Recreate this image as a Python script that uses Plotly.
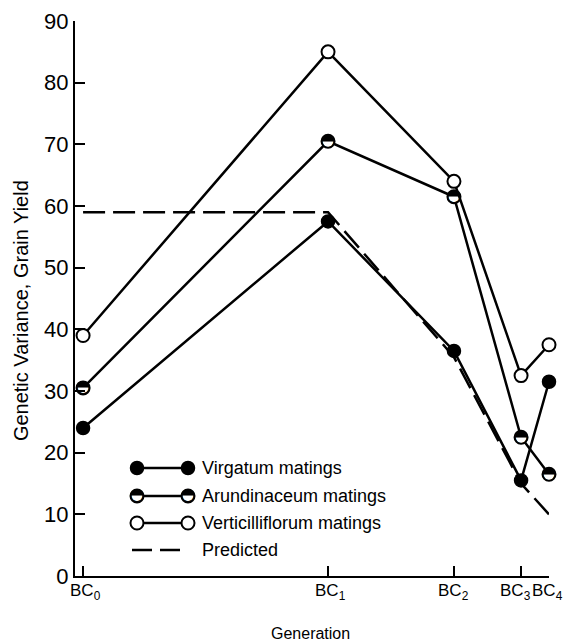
import plotly.graph_objects as go

# ---- data ----
generations = ["BC<sub>0</sub>", "BC<sub>1</sub>", "BC<sub>2</sub>", "BC<sub>3</sub>", "BC<sub>4</sub>"]
gen_pos = [0.0, 1.0, 1.514, 1.788, 1.902]
virgatum = [24.0, 57.5, 36.5, 15.5, 31.5]
arundinaceum = [30.5, 70.5, 61.5, 22.5, 16.5]
verticilliflorum = [39.0, 85.0, 64.0, 32.5, 37.5]
predicted = [59.0, 59.0, 35.5, 15.0, 10.0]
y_ticks = [0, 10, 20, 30, 40, 50, 60, 70, 80, 90]
label_nudge = [2, 2, 0, -6, -2]   # px nudges so the crowded BC3/BC4 labels sit apart

FONT = "Liberation Sans Narrow, Arial Narrow, Liberation Sans, sans-serif"
LW = 2.5

fig = go.Figure()

# predicted (dashed)
fig.add_trace(go.Scatter(x=gen_pos, y=predicted, mode="lines",
                         line=dict(color="black", width=LW, dash="22px,8px"),
                         showlegend=False, cliponaxis=False))
# virgatum (filled)
fig.add_trace(go.Scatter(x=gen_pos, y=virgatum, mode="lines+markers",
                         line=dict(color="black", width=LW),
                         marker=dict(symbol="circle", size=13, color="black",
                                     line=dict(color="black", width=1.5)),
                         showlegend=False, cliponaxis=False))
# arundinaceum (half filled)
fig.add_trace(go.Scatter(x=gen_pos, y=arundinaceum, mode="lines+markers+text",
                         line=dict(color="black", width=LW),
                         marker=dict(symbol="circle", size=13, color="white",
                                     line=dict(color="black", width=2)),
                         text=["\u25d3"] * len(gen_pos), textposition="middle center",
                         textfont=dict(family="DejaVu Sans", size=17, color="black"),
                         showlegend=False, cliponaxis=False))
# verticilliflorum (open)
fig.add_trace(go.Scatter(x=gen_pos, y=verticilliflorum, mode="lines+markers",
                         line=dict(color="black", width=LW),
                         marker=dict(symbol="circle", size=13, color="white",
                                     line=dict(color="black", width=2)),
                         showlegend=False, cliponaxis=False))

# ---- x tick labels as annotations (allows nudging the crowded ones) ----
for xp, lab, dx in zip(gen_pos, generations, label_nudge):
    fig.add_annotation(x=xp, y=0, xref="x", yref="y", text=lab, showarrow=False,
                       xanchor="center", yanchor="top", xshift=dx, yshift=-3,
                       font=dict(family=FONT, size=17, color="black"))

# ---- hand-drawn legend on an overlay axis (window-pixel units) ----
leg_rows = [
    ("Virgatum matings", dict(symbol="circle", size=13, color="black", line=dict(color="black", width=1.5)), None),
    ("Arundinaceum matings", dict(symbol="circle", size=13, color="white", line=dict(color="black", width=2)), "\u25d3"),
    ("Verticilliflorum matings", dict(symbol="circle", size=13, color="white", line=dict(color="black", width=2)), None),
    ("Predicted", None, None),
]
leg_y = [468, 496, 523, 550]
leg_x0, leg_x1, leg_text_x = 137, 188, 200
for (label, mk, glyph), yy in zip(leg_rows, leg_y):
    if mk is None:
        fig.add_trace(go.Scatter(x=[leg_x0 - 5, leg_x1 - 6], y=[yy, yy], mode="lines",
                                 line=dict(color="black", width=LW, dash="20px,8px"),
                                 xaxis="x2", yaxis="y2", showlegend=False, hoverinfo="skip"))
    elif glyph:
        fig.add_trace(go.Scatter(x=[leg_x0, leg_x1], y=[yy, yy], mode="lines+markers+text",
                                 line=dict(color="black", width=LW), marker=mk,
                                 text=[glyph, glyph], textposition="middle center",
                                 textfont=dict(family="DejaVu Sans", size=17, color="black"),
                                 xaxis="x2", yaxis="y2", showlegend=False, hoverinfo="skip"))
    else:
        fig.add_trace(go.Scatter(x=[leg_x0, leg_x1], y=[yy, yy], mode="lines+markers",
                                 line=dict(color="black", width=LW), marker=mk,
                                 xaxis="x2", yaxis="y2", showlegend=False, hoverinfo="skip"))
    fig.add_annotation(x=leg_text_x, y=yy, xref="x2", yref="y2", text=label,
                       showarrow=False, xanchor="left", yanchor="middle",
                       font=dict(family=FONT, size=18, color="black"))

# axis titles (paper coords, outside the plot area)
fig.add_annotation(x=0.496, y=-0.103, xref="paper", yref="paper", text="Generation",
                   showarrow=False, xanchor="center", yanchor="middle",
                   font=dict(family=FONT, size=16, color="black"))
fig.add_annotation(x=-0.114, y=0.479, xref="paper", yref="paper",
                   text="Genetic Variance, Grain Yield",
                   showarrow=False, textangle=-90, xanchor="center", yanchor="middle",
                   font=dict(family=FONT, size=20, color="black"))

# the page body adds an 8px margin, so the figure is 8px smaller and margins shifted
fig.update_layout(
    width=563, height=635,
    margin=dict(l=67, r=22, t=13, b=67),
    paper_bgcolor="white", plot_bgcolor="white",
    font=dict(family=FONT, color="black"),
    xaxis=dict(range=[-0.033, gen_pos[-1]], tickvals=gen_pos, showticklabels=False,
               automargin=False,
               showline=True, linecolor="black", linewidth=2, ticks="inside",
               ticklen=10, tickwidth=2, tickcolor="black", showgrid=False, zeroline=False),
    yaxis=dict(range=[0, 90], tickvals=y_ticks, showline=True, linecolor="black",
               automargin=False,
               linewidth=2, ticks="inside", ticklen=10, tickwidth=2, tickcolor="black",
               showgrid=False, zeroline=False, tickfont=dict(family=FONT, size=22)),
    xaxis2=dict(range=[75, 549], overlaying="x", visible=False, fixedrange=True),
    yaxis2=dict(range=[576, 21], overlaying="y", visible=False, fixedrange=True),
)

fig.write_html("out.html")
